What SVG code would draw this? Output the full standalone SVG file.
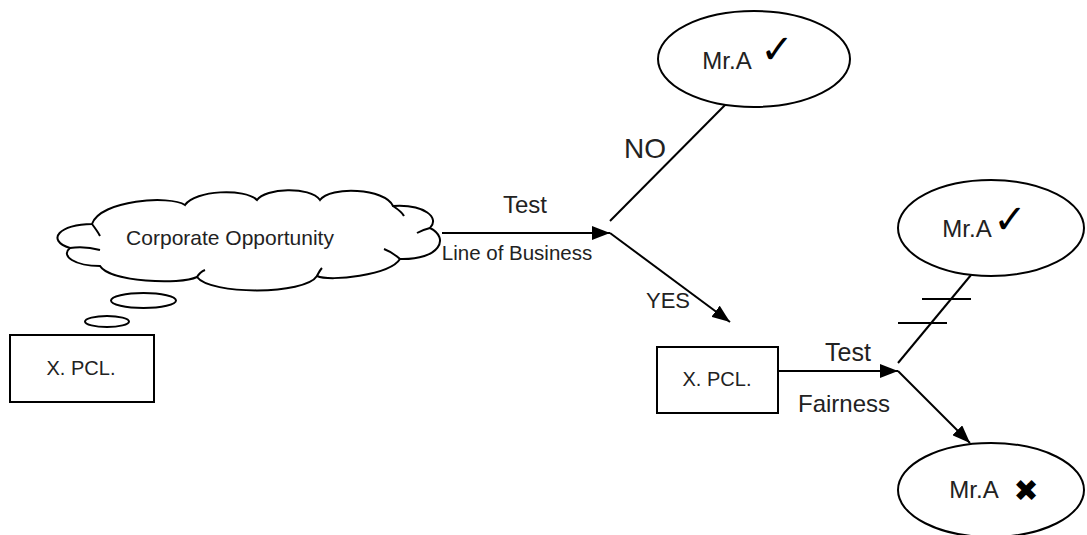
<svg xmlns="http://www.w3.org/2000/svg" width="1087" height="535" viewBox="0 0 1087 535">
<style>
.s{fill:#fff;stroke:#000;stroke-width:2}
.l{fill:none;stroke:#000;stroke-width:2}
.t{font-family:"Liberation Sans",Arial,sans-serif;fill:#222;text-anchor:middle}
.sym{font-family:"DejaVu Sans",sans-serif;fill:#000;text-anchor:middle}
</style>
<defs>
<marker id="ah" markerUnits="userSpaceOnUse" markerWidth="20" markerHeight="14" refX="18" refY="7" orient="auto">
<path d="M0,0 L18,7 L0,14 Z" fill="#000"/>
</marker>
</defs>
<rect width="1087" height="535" fill="#fff"/>
<g id="connectors">
<line class="l" x1="442" y1="233" x2="610" y2="233" marker-end="url(#ah)"/>
<line class="l" x1="610" y1="233" x2="730" y2="322" marker-end="url(#ah)"/>
<line class="l" x1="610" y1="221" x2="730" y2="100"/>
<line class="l" x1="778" y1="371" x2="898" y2="371" marker-end="url(#ah)"/>
<line class="l" x1="898" y1="371" x2="970" y2="443" marker-end="url(#ah)"/>
<line class="l" x1="898" y1="363" x2="971" y2="275"/>
<line class="l" x1="922" y1="299" x2="971" y2="299"/>
<line class="l" x1="898" y1="323" x2="947" y2="323"/>
<text class="t" x="525" y="213" font-size="24">Test</text>
<text class="t" x="517" y="260" font-size="20.5">Line of Business</text>
<text class="t" x="645" y="158" font-size="28">NO</text>
<text class="t" x="668" y="308" font-size="22">YES</text>
<text class="t" x="848" y="361" font-size="25">Test</text>
<text class="t" x="844" y="412" font-size="24">Fairness</text>
</g>
<g id="cloud">
<path class="s" d="M92,224 C100,200 170,195 185,205 C195,190 245,188 257,200 C265,188 310,186 320,200 C330,186 385,188 393,206 C425,204 440,218 430,228 C450,238 440,260 400,259 C390,275 330,282 317,276 C305,295 210,295 197,277 C180,285 110,282 100,266 C75,266 60,256 70,248 C45,240 60,224 92,224 Z"/>
<path class="l" d="M92,224 Q98,232 100,236 M70,248 Q85,246 100,250 M393,206 Q402,212 404,216 M430,228 Q422,230 417,233 M400,259 Q392,252 384,249 M317,276 Q320,270 322,268 M197,277 Q200,272 205,270"/>
<text class="t" x="230" y="245" font-size="21">Corporate Opportunity</text>
</g>
<g id="bubbles">
<ellipse class="s" cx="143.5" cy="300.5" rx="32.5" ry="7.5"/>
<ellipse class="s" cx="107" cy="321.5" rx="22" ry="5.5"/>
</g>
<g id="xpcl-left">
<rect class="s" x="10" y="335" width="144" height="67"/>
<text class="t" x="81" y="375" font-size="20">X. PCL.</text>
</g>
<g id="mra-top">
<ellipse class="s" cx="754" cy="59" rx="96" ry="48"/>
<text class="t" x="727" y="69" font-size="24">Mr.A</text>
<text class="sym" x="777" y="63" font-size="40">✓</text>
</g>
<g id="xpcl-mid">
<rect class="s" x="657" y="347" width="121" height="66"/>
<text class="t" x="717" y="386" font-size="20">X. PCL.</text>
</g>
<g id="mra-right">
<ellipse class="s" cx="991" cy="228" rx="93" ry="48"/>
<text class="t" x="967" y="237" font-size="24">Mr.A</text>
<text class="sym" x="1010" y="233" font-size="40">✓</text>
</g>
<g id="mra-bottom">
<ellipse class="s" cx="991" cy="490" rx="93" ry="47"/>
<text class="t" x="974" y="498" font-size="24">Mr.A</text>
<text class="sym" x="1026" y="501" font-size="30">✖</text>
</g>
</svg>
